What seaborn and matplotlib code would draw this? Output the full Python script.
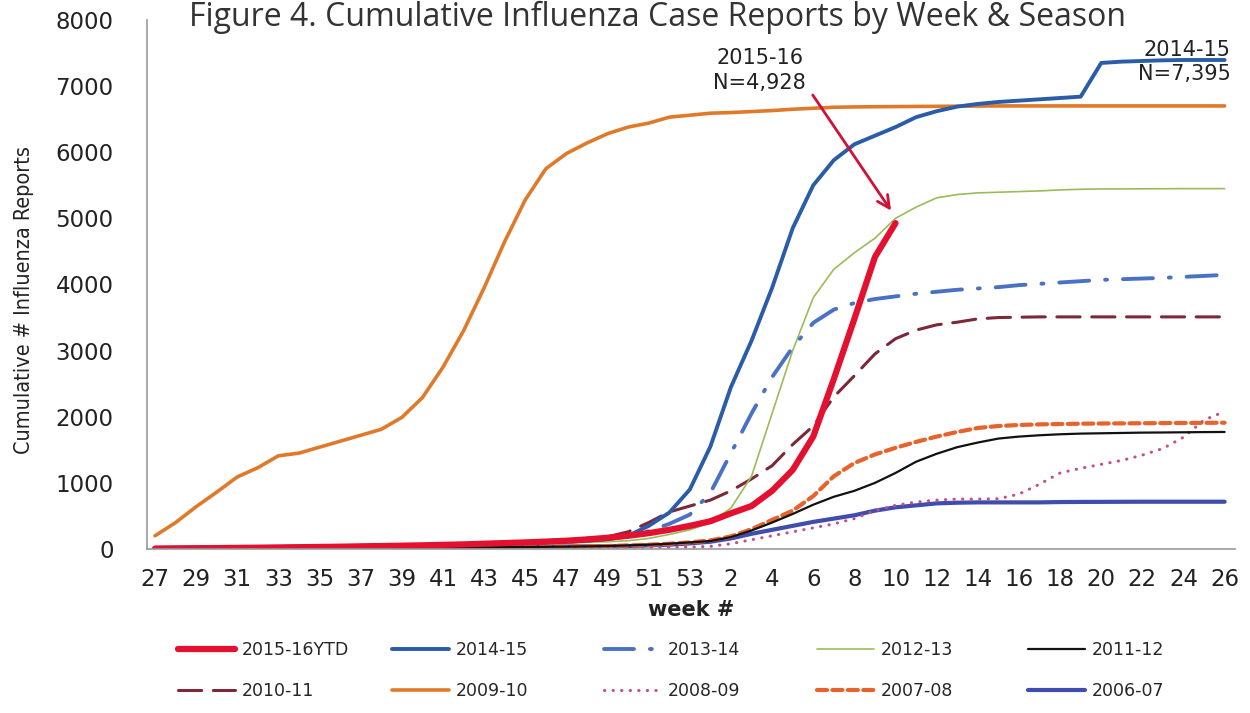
import numpy as np
import pandas as pd
import matplotlib
matplotlib.use("Agg")
import matplotlib.pyplot as plt
import seaborn as sns

# weeks of the season: 27..53 then 1..26
weeks = list(range(27, 54)) + list(range(1, 27))

nan = np.nan
s_1516 = [5, 8, 11, 14, 17, 20, 23, 27, 31, 35, 40, 45, 50, 56, 63, 70, 80, 90, 100, 112, 125, 145, 170,
          200, 240, 290, 350,
          420, 540, 650, 880, 1195, 1700, 2570, 3480, 4416, 4928] + [nan] * 16
s_1415 = [20, 22, 24, 26, 28, 30, 33, 36, 40, 44, 48, 52, 56, 60, 65, 70, 76, 82, 90, 100, 110, 125, 150,
          200, 350, 550, 900,
          1550, 2450, 3150, 3950, 4850, 5500, 5880, 6120, 6250, 6380, 6530, 6620, 6690, 6730, 6760,
          6780, 6800, 6820, 6840, 7350, 7370, 7380, 7390, 7395, 7395, 7395]
s_1314 = [15, 18, 20, 22, 25, 28, 31, 34, 38, 42, 46, 50, 55, 60, 66, 72, 80, 88, 97, 108, 120, 135, 150,
          190, 270, 380, 520,
          850, 1450, 2050, 2600, 3050, 3420, 3620, 3720, 3780, 3820, 3860, 3890, 3920, 3940, 3960,
          3990, 4010, 4030, 4050, 4070, 4080, 4090, 4100, 4115, 4130, 4145]
s_1213 = [10, 12, 14, 16, 18, 20, 22, 25, 28, 31, 34, 38, 42, 46, 50, 55, 60, 66, 72, 80, 90, 100, 110,
          125, 160, 220, 290,
          400, 620, 1100, 2050, 3000, 3800, 4230, 4480, 4700, 5000, 5170, 5310, 5360, 5385, 5395,
          5405, 5415, 5430, 5440, 5445, 5445, 5447, 5448, 5450, 5450, 5450]
s_1112 = [5, 6, 7, 8, 9, 10, 11, 12, 13, 14, 15, 16, 18, 20, 22, 24, 26, 28, 30, 33, 36, 40, 45,
          55, 65, 80, 100,
          120, 180, 280, 400, 530, 670, 790, 880, 1000, 1150, 1320, 1440, 1540, 1610, 1670,
          1700, 1720, 1735, 1745, 1750, 1755, 1760, 1762, 1765, 1768, 1770]
s_1011 = [20, 22, 25, 28, 31, 34, 37, 40, 44, 48, 52, 57, 62, 68, 75, 82, 90, 100, 110, 125, 140, 160, 185,
          260, 400, 560, 650,
          740, 880, 1060, 1260, 1580, 1860, 2300, 2620, 2950, 3180, 3310, 3390, 3430, 3480, 3500,
          3505, 3510, 3510, 3510, 3510, 3510, 3510, 3510, 3510, 3510, 3510]
s_0910 = [200, 400, 640, 860, 1090, 1230, 1410, 1450, 1540, 1630, 1720, 1810, 1990, 2290, 2750, 3300,
          3950, 4650, 5280, 5750, 5980, 6140, 6280,
          6380, 6440, 6530, 6560,
          6590, 6600, 6615, 6630, 6650, 6665, 6680, 6685, 6688, 6690, 6692, 6694, 6696, 6698, 6700,
          6700, 6700, 6700, 6700, 6700, 6700, 6700, 6700, 6700, 6700, 6700]
s_0809 = [2, 3, 4, 5, 6, 7, 8, 9, 10, 11, 12, 13, 14, 15, 16, 17, 18, 19, 20, 21, 22, 23, 24,
          25, 26, 27, 28,
          40, 80, 140, 200, 260, 320, 380, 460, 580, 660, 710, 740, 755, 755, 760,
          830, 980, 1150, 1220, 1280, 1340, 1420, 1520, 1690, 1950, 2080]
s_0708 = [5, 6, 7, 8, 9, 10, 11, 12, 13, 14, 15, 16, 18, 20, 22, 24, 26, 28, 30, 33, 36, 40, 45,
          55, 65, 80, 100,
          130, 190, 300, 440, 580, 800, 1100, 1300, 1430, 1530, 1620, 1700, 1770, 1830, 1860,
          1875, 1885, 1890, 1895, 1898, 1900, 1902, 1904, 1906, 1908, 1910]
s_0607 = [10, 11, 12, 13, 14, 15, 16, 17, 18, 19, 20, 21, 22, 24, 26, 28, 30, 32, 34, 36, 38, 40, 42,
          45, 55, 65, 85,
          110, 160, 230, 290, 350, 410, 460, 510, 580, 630, 660, 690, 700, 705, 705,
          705, 705, 710, 712, 713, 714, 715, 715, 715, 715, 715]

seasons = ["2015-16YTD", "2014-15", "2013-14", "2012-13", "2011-12",
           "2010-11", "2009-10", "2008-09", "2007-08", "2006-07"]
series = [s_1516, s_1415, s_1314, s_1213, s_1112, s_1011, s_0910, s_0809, s_0708, s_0607]

styles = {
    "2015-16YTD": dict(color="#E3102F", lw=4.5, ls="-"),
    "2014-15": dict(color="#2A5CA8", lw=2.8, ls="-"),
    "2013-14": dict(color="#4A72C4", lw=2.8, ls=(0, (7.7, 4.1, 0.5, 4.1))),
    "2012-13": dict(color="#9BBB59", lw=1.2, ls="-"),
    "2011-12": dict(color="#111111", lw=1.6, ls="-"),
    "2010-11": dict(color="#7B2838", lw=2.2, ls=(0, (7.6, 3.8))),
    "2009-10": dict(color="#E07A2B", lw=2.6, ls="-"),
    "2008-09": dict(color="#C0508A", lw=2.2, ls=(0, (0.1, 2.7))),
    "2007-08": dict(color="#E8632B", lw=3.0, ls=(0, (2.4, 1.3))),
    "2006-07": dict(color="#3F4DAE", lw=3.0, ls="-"),
}

rows = []
for name, vals in zip(seasons, series):
    for i, v in enumerate(vals):
        rows.append({"pos": i, "week": weeks[i], "season": name, "reports": v})
df = pd.DataFrame(rows)

sns.set_theme(style="white")
plt.rcParams["font.family"] = ["DejaVu Sans"]

fig = plt.figure(figsize=(12.5, 7.13), dpi=100)
ax = fig.add_axes([0.1176, 0.230, 0.870, 0.742])

# draw in back-to-front order so the current season sits on top
handles = {}
for name in seasons[::-1]:
    st = styles[name]
    sub = df[df["season"] == name].dropna()
    sns.lineplot(data=sub, x="pos", y="reports", ax=ax, color=st["color"],
                 linewidth=st["lw"], linestyle=st["ls"], dash_capstyle="round",
                 legend=False)
    handles[name] = ax.lines[-1]

ax.set_xlim(-0.39, 52.48)
ax.set_ylim(0, 8000)
ax.set_yticks(range(0, 8001, 1000))
ax.set_xticks(range(len(weeks)))
ax.set_xticklabels([str(w) if i % 2 == 0 else "" for i, w in enumerate(weeks)])
ax.tick_params(axis="x", length=5, width=1, color="#999999", direction="out",
               labelsize=16.5, pad=9, labelcolor="#222222")
ax.tick_params(axis="y", length=0, labelsize=16.5, pad=24, labelcolor="#222222")
for side in ["top", "right"]:
    ax.spines[side].set_visible(False)
for side in ["left", "bottom"]:
    ax.spines[side].set_color("#999999")
    ax.spines[side].set_linewidth(1.2)

ax.set_xlabel("week #", fontsize=15, fontweight="bold", color="#222222", labelpad=6)
ax.set_ylabel("Cumulative # Influenza Reports", fontsize=15.5, color="#222222",
              fontstretch="condensed")
ax.yaxis.set_label_coords(-0.104, 0.47)

fig.text(0.526, 0.999, "Figure 4. Cumulative Influenza Case Reports by Week & Season",
         ha="center", va="top", fontsize=23, color="#333333", family=["Open Sans", "DejaVu Sans"])

# annotations
ax.text(29.4, 7240, "2015-16\nN=4,928", ha="center", va="center", fontsize=15,
        color="#222222", linespacing=1.3)
ax.annotate("", xy=(35.86, 5082), xytext=(31.9, 6900),
            arrowprops=dict(arrowstyle="->", color="#D01038", lw=2, mutation_scale=22))
ax.text(52.3, 7365, "2014-15\nN=7,395", ha="right", va="center", fontsize=15,
        color="#222222", linespacing=1.3, multialignment="right")

# legend: five equal-width columns, two rows
col_x = [178, 392, 604, 817, 1028]
for c in range(5):
    top = seasons[c]
    bottom = seasons[c + 5]
    fig.legend(handles=[handles[top], handles[bottom]], labels=[top, bottom],
               loc="center left", bbox_to_anchor=(col_x[c] / 1250, 1 - 670.5 / 713),
               frameon=False, borderpad=0, borderaxespad=0, handlelength=3.3,
               handletextpad=0.35, labelspacing=1.3, fontsize=12.5)

fig.savefig("out.png", dpi=100)
